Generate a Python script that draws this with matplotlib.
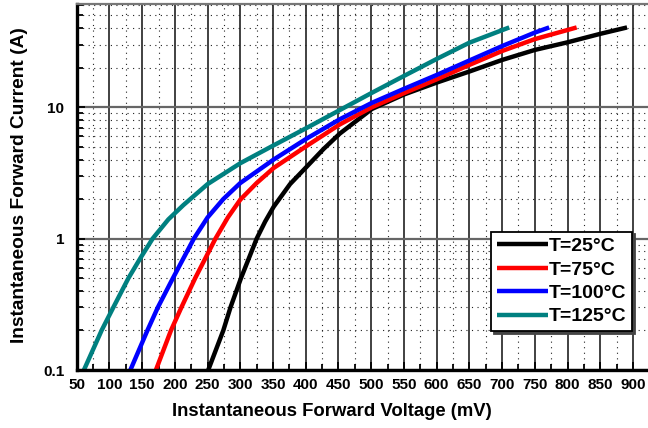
import matplotlib.pyplot as plt
import numpy as np
from matplotlib.ticker import MultipleLocator, FixedLocator, NullFormatter

plt.rcParams['font.family'] = ['Liberation Sans', 'DejaVu Sans']
plt.rcParams['font.weight'] = 'bold'

# forward voltage (mV) / forward current (A)
v_25 = [251, 274, 285, 301, 325, 338, 351, 376, 402, 427, 452, 501, 550, 600, 650, 700, 750, 800, 850, 891]
i_25 = [0.1, 0.2, 0.3, 0.5, 1, 1.35, 1.75, 2.6, 3.55, 4.8, 6.3, 9.7, 12.5, 15.4, 18.7, 22.9, 27.3, 31.2, 36.2, 40.5]

v_75 = [171, 194, 210, 231, 262, 281, 300, 325, 351, 402, 452, 501, 550, 600, 650, 700, 750, 814]
i_75 = [0.1, 0.2, 0.3, 0.5, 1, 1.45, 1.98, 2.65, 3.45, 5.1, 7.4, 10.0, 12.8, 16.3, 21, 26.8, 33, 40.5]

v_100 = [132, 158, 174, 197, 229, 250, 274, 300, 351, 402, 452, 501, 550, 600, 651, 700, 750, 772]
i_100 = [0.1, 0.2, 0.3, 0.5, 1, 1.45, 2.0, 2.65, 4.0, 5.8, 8.1, 10.8, 13.8, 17.6, 22.8, 29.2, 37, 40.5]

v_125 = [61, 88, 106, 129, 148, 166, 190, 213, 250, 300, 350, 400, 450, 500, 550, 600, 650, 711]
i_125 = [0.1, 0.2, 0.3, 0.5, 0.72, 1, 1.4, 1.8, 2.6, 3.75, 5.1, 6.9, 9.4, 12.8, 17.3, 23.3, 31, 40.5]

labels = ['T=25°C', 'T=75°C', 'T=100°C', 'T=125°C']
colors = ['black', '#ff0000', '#0000ff', '#008080']

x_ticks = list(range(50, 901, 50))
y_ticks = [0.1, 1, 10]
y_ticklabels = ['0.1', '1', '10']

fig = plt.figure(figsize=(6.48, 4.28), dpi=100)
ax = fig.add_axes([0.1184, 0.1355, 0.8816, 0.855])

ax.set_yscale('log')
ax.set_xlim(50, 923)
ax.set_ylim(0.1, 61)

# grid: solid at majors, dotted at minors
ax.xaxis.set_major_locator(FixedLocator(x_ticks))
ax.xaxis.set_minor_locator(MultipleLocator(25))
ax.yaxis.set_major_locator(FixedLocator(y_ticks))
ax.yaxis.set_minor_locator(FixedLocator([k * d for d in (0.1, 1, 10) for k in range(2, 10)]))
ax.yaxis.set_minor_formatter(NullFormatter())
ax.set_yticklabels(y_ticklabels)

ax.grid(True, which='major', axis='x', color='#333333', lw=1.3, ls='-')
ax.grid(True, which='major', axis='y', color='#666666', lw=1.6, ls='-')
ax.grid(True, which='minor', color='#222222', lw=0.8, ls=(0, (1, 4)))
ax.set_axisbelow(True)

for v, i, c, lab in zip([v_25, v_75, v_100, v_125], [i_25, i_75, i_100, i_125], colors, labels):
    ax.plot(v, i, color=c, lw=3.2, label=lab, solid_capstyle='butt', solid_joinstyle='round')

ax.tick_params(which='both', direction='in', labelsize=11, width=1.3, colors='black')
ax.tick_params(which='major', length=6)
ax.tick_params(which='minor', length=4)
ax.tick_params(axis='x', which='both', pad=6)
ax.tick_params(axis='y', which='both', pad=9)
ax.tick_params(right=False, top=False)

ax.spines['left'].set_linewidth(2.4)
ax.spines['bottom'].set_linewidth(2.4)
ax.spines['top'].set_color('#777777')
ax.spines['top'].set_linewidth(1.6)
ax.spines['right'].set_visible(False)

ax.set_xlabel('Instantaneous Forward Voltage (mV)', fontsize=13.3, fontweight='bold')
ax.set_ylabel('Instantaneous Forward Current (A)', fontsize=13.8, fontweight='bold')
ax.xaxis.set_label_coords(0.447, -0.09)
ax.yaxis.set_label_coords(-0.085, 0.505)

leg = ax.legend(loc='upper left', bbox_to_anchor=(0.726, 0.378), borderaxespad=0,
                fontsize=14, handlelength=2.6, handletextpad=0.05, labelspacing=0.3,
                borderpad=0.3, fancybox=False, framealpha=1, edgecolor='black',
                shadow={'color': '#444444', 'alpha': 1})
leg.get_frame().set_linewidth(1.3)
for t in leg.get_texts():
    t.set_fontweight('bold')

fig.savefig('out.png', dpi=100)
